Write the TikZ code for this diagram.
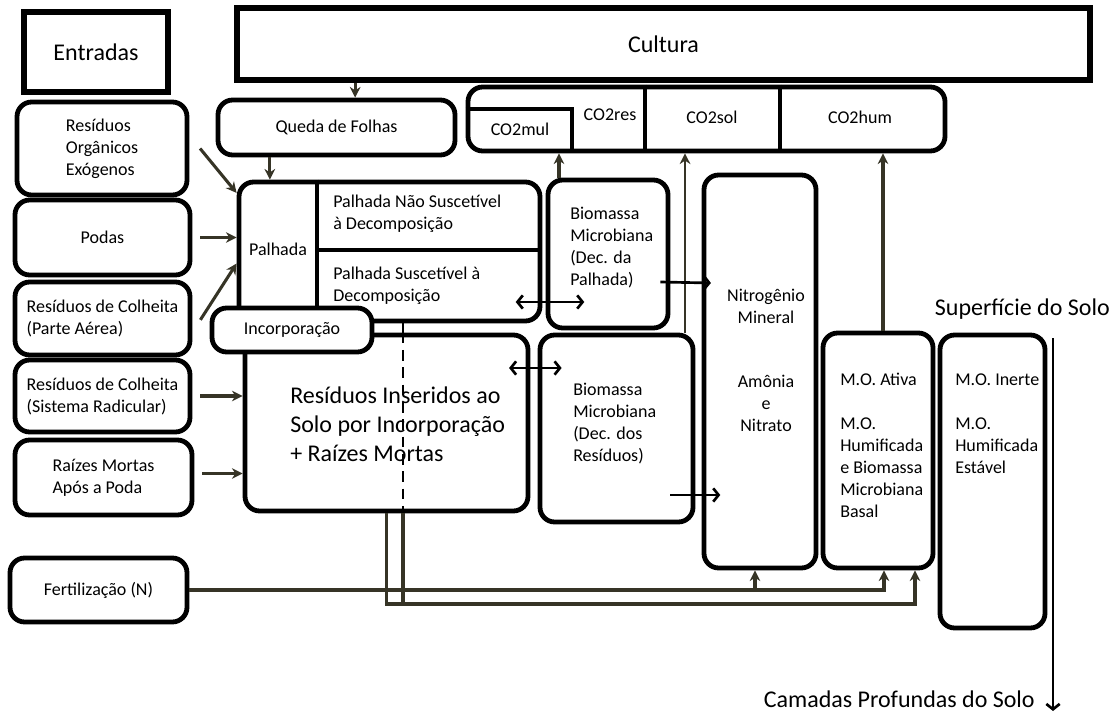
\documentclass[tikz,border=0pt]{standalone}
\usepackage{fontspec}
\setmainfont{Carlito}
\usetikzlibrary{arrows.meta}
\definecolor{seta}{RGB}{54,52,38}
\newcommand{\ntam}{\fontsize{13.5pt}{16.5pt}\selectfont}
\newcommand{\gtam}{\fontsize{18pt}{21.75pt}\selectfont}
\tikzset{
  caixa/.style={draw, line width=3.6pt, rounded corners=11pt, inner sep=0pt, fill=white},
  quadro/.style={draw, line width=3.8pt, inner sep=0pt},
  tam/.style 2 args={minimum width=#1*0.75pt, minimum height=#2*0.75pt},
  txt/.style={inner sep=0pt, align=left},
  divisa/.style={line width=3.4pt},
  seta/.style={draw=seta, line width=2.3pt, -{Stealth[length=8pt,width=8pt]}},
  linha/.style={draw=seta, line width=2.3pt},
  duplo/.style={line width=2pt, {Straight Barb[length=4pt,width=10pt]}-{Straight Barb[length=4pt,width=10pt]}},
  simples/.style={line width=2pt, -{Straight Barb[length=4pt,width=10pt]}},
}
\begin{document}
\begin{tikzpicture}[x=0.75pt,y=-0.75pt,font=\ntam]
\useasboundingbox (0,0) rectangle (1118,713);
% entradas
\node[quadro,tam={144}{80},font=\gtam] (entradas) at (96,52) {Entradas};
\node[quadro,tam={853}{72},font=\gtam] (cultura) at (663.5,44) {Cultura};
\node[caixa,tam={170}{93},align=left] (organicos) at (102,148.5) {Resíduos\\Orgânicos\\Exógenos};
\node[caixa,tam={175}{75}] (podas) at (102.5,237.5) {Podas};
\node[caixa,tam={175}{73},align=left] (colheitaA) at (102.5,318.5) {Resíduos de Colheita\\(Parte Aérea)};
\node[caixa,tam={175}{72},align=left] (colheitaR) at (102.5,396) {Resíduos de Colheita\\(Sistema Radicular)};
\node[caixa,tam={177}{75},align=left] (raizes) at (103.5,477.5) {Raízes Mortas\\Após a Poda};
\node[caixa,tam={177}{64}] (fert) at (98.5,590) {Fertilização (N)};
% compartimentos
\node[caixa,tam={237}{55}] (queda) at (336.5,127.5) {Queda de Folhas};
\node[caixa,tam={477}{64}] (co2) at (706.5,119) {};
\node[caixa,tam={301}{139}] (palhada) at (389.5,251.5) {};
\node[caixa,tam={283}{176}] (insert) at (386.5,423) {};
\node[caixa,tam={120}{148}] (bioP) at (608,254) {};
\node[caixa,tam={153}{187}] (bioR) at (616.5,428.5) {};
\node[caixa,tam={112}{393}] (nitro) at (760,371.5) {};
\node[caixa,tam={110}{235}] (ativa) at (878,450.5) {};
\node[caixa,tam={105}{293}] (inerte) at (992.5,481.5) {};
% divisoes
\coordinate (mulc) at (572,109);
\coordinate (pv) at (317,250);
\draw[divisa] (co2.west |- mulc) -- (mulc) -- (mulc |- co2.south);
\draw[divisa] (645,0 |- co2.north) -- (645,0 |- co2.south);
\draw[divisa] (780,0 |- co2.north) -- (780,0 |- co2.south);
\draw[divisa] (pv |- palhada.north) -- (pv |- 0,312);
\draw[divisa] (pv) -- (pv -| palhada.east);
\node[caixa,tam={160}{44}] (incorp) at (292,330) {Incorporação};
% textos
\node[txt] (tco2mul) at (520,129) {CO2mul};
\node[txt] (tco2res) at (610,115) {CO2res};
\node[txt] (tco2sol) at (712,117) {CO2sol};
\node[txt] (tco2hum) at (860,117) {CO2hum};
\node[txt] (tpalhada) at (278,249) {Palhada};
\node[txt,anchor=west] (tnaosusc) at (333,214) {Palhada Não Suscetível\\à Decomposição};
\node[txt,anchor=west] (tsusc) at (333,286) {Palhada Suscetível à\\Decomposição};
\node[txt,anchor=west,font=\gtam] (tinsert) at (290,424) {Resíduos Inseridos ao\\Solo por Incorporação\\+ Raízes Mortas};
\node[txt,anchor=west] (tbioP) at (570,247.5) {Biomassa\\Microbiana\\(Dec. da\\Palhada)};
\node[txt,anchor=west] (tbioR) at (573,424) {Biomassa\\Microbiana\\(Dec. dos\\Resíduos)};
\node[txt,align=center] (tnitro) at (766,306) {Nitrogênio\\Mineral};
\node[txt,align=center] (tamonia) at (766,403.5) {Amônia\\e\\Nitrato};
\node[txt,anchor=west] (tativa) at (840,445) {M.O. Ativa\\[\baselineskip]M.O.\\Humificada\\e Biomassa\\Microbiana\\Basal};
\node[txt,anchor=west] (tinerte) at (955,424) {M.O. Inerte\\[\baselineskip]M.O.\\Humificada\\Estável};
\node[txt,anchor=east,font=\gtam] (superficie) at (1110,309) {Superfície do Solo};
\node[txt,anchor=east,font=\gtam] (camadas) at (1035,699) {Camadas Profundas do Solo};
% entradas -> palhada / residuos
\draw[seta] ([xshift=8pt]organicos.east) -- ([yshift=-10pt]palhada.north west);
\draw[seta,shorten <=6pt] (podas.east) -- (palhada.west |- podas.east);
\draw[seta] ([xshift=6pt,yshift=-1pt]colheitaA.east) -- ([yshift=-9pt]palhada.west);
\draw[seta,shorten <=6pt] (colheitaR.east) -- (insert.west |- colheitaR.east);
\draw[seta,shorten <=6pt] ([yshift=3pt]raizes.east) -- ([yshift=3pt]insert.west |- raizes.east);
\draw[seta] ([xshift=14pt]queda.north |- cultura.south) -- ([xshift=14pt]queda.north);
\draw[seta] ([xshift=-50pt]queda.south) -- ([xshift=-50pt]queda.south |- palhada.north);
% fluxos de CO2
\draw[seta] ([xshift=-36.75pt]bioP.north) -- ([xshift=-36.75pt]bioP.north |- co2.south);
\draw[seta,line width=1.6pt] ([xshift=51.4pt]bioR.north) -- ([xshift=51.4pt]bioR.north |- co2.south);
\draw[seta] ([xshift=3.75pt]ativa.north) -- ([xshift=3.75pt]ativa.north |- co2.south);
% trocas
\coordinate (dp) at (549,302);
\coordinate (dr) at (535,368);
\draw[duplo] ([xshift=-20pt]palhada.east |- dp) -- ([xshift=29pt]bioP.west |- dp);
\draw[duplo] ([xshift=-16pt]insert.east |- dr) -- ([xshift=18pt]bioR.west |- dr);
\draw[simples] ([xshift=-7.5pt,yshift=-21pt]bioP.east) -- ([xshift=7pt]nitro.west |- 0,283);
\draw[simples] ([xshift=-19pt]bioR.east |- 0,495) -- ([xshift=14pt]nitro.west |- 0,495);
% fertilizacao e incorporacao
\coordinate (fundo) at (915,604);
\coordinate (corte) at (403,604);
\draw[seta] (fert.east) -| ([xshift=4.5pt]ativa.south);
\draw[seta] (fert.east -| nitro.south) ++(-3.75pt,0) -- ([xshift=-3.75pt]nitro.south);
\draw[seta] (insert.south) |- (fundo) -- (fundo |- ativa.south);
\draw[line width=2pt] (corte |- palhada.south) -- (corte |- insert.north);
\draw[line width=2pt,dash pattern=on 8pt off 5pt] (corte |- insert.north) -- (corte |- insert.south);
\draw[linha] (corte |- insert.south) -- (corte);
% perfil do solo
\coordinate (topo) at (1053,338);
\coordinate (prof) at (1053,711);
\draw[simples] (topo) -- (prof);
\end{tikzpicture}
\end{document}
